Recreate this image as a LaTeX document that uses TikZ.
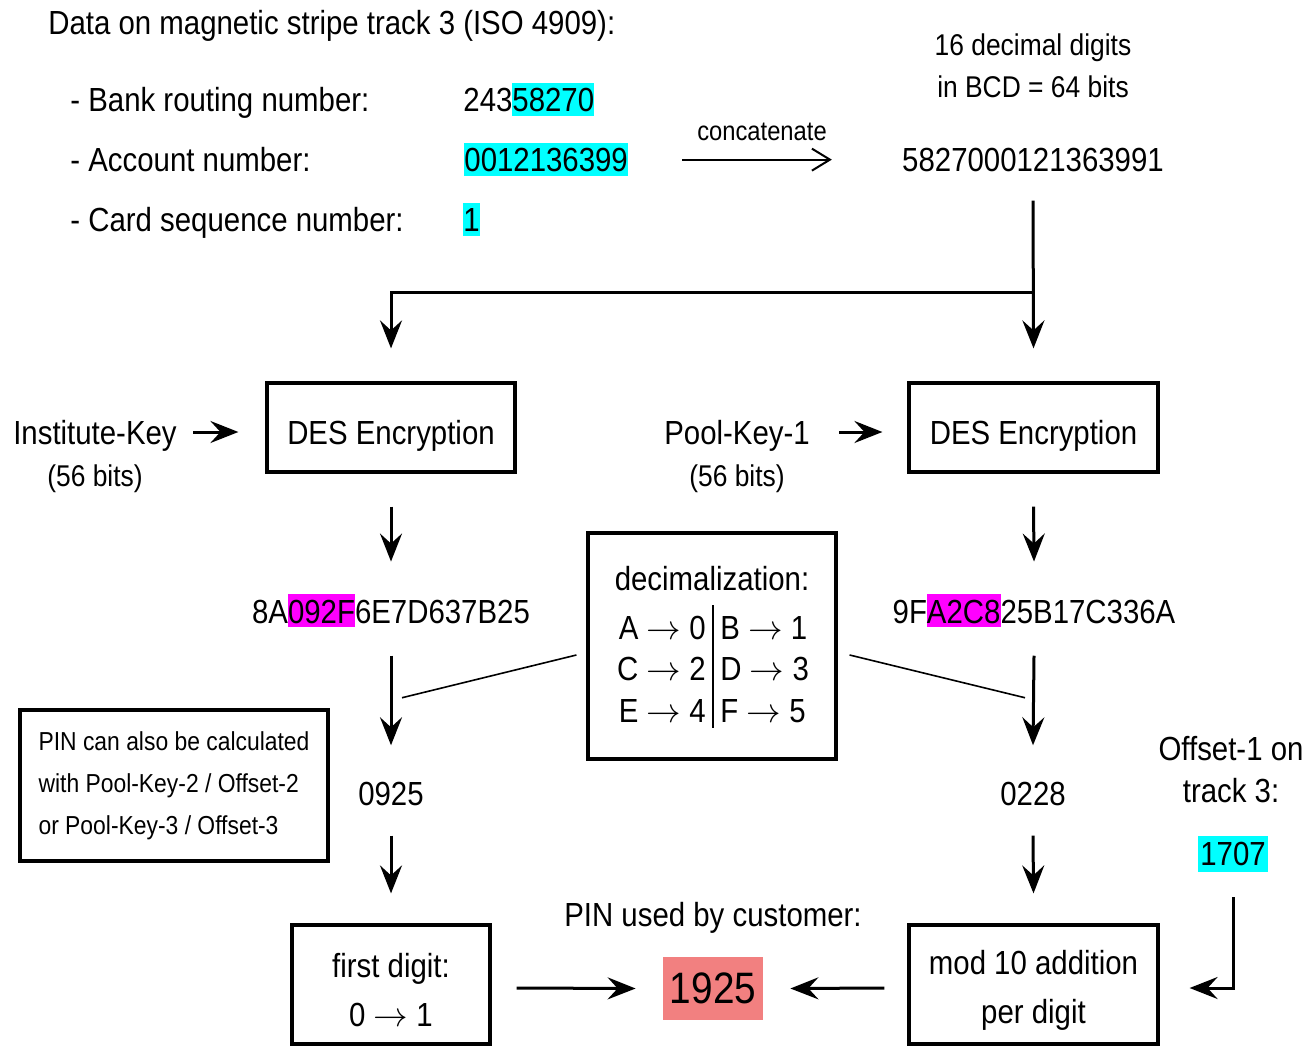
\documentclass[tikz,border=0pt]{standalone}
\usepackage{fontspec}
\setmainfont{Liberation Sans}[FakeStretch=0.88]
\usetikzlibrary{arrows.meta,calc}
\definecolor{hlcyan}{RGB}{0,255,255}
\definecolor{hlmag}{RGB}{255,0,255}
\definecolor{pinred}{RGB}{242,128,128}
% highlighted digits inside a number
\newcommand\hl[2]{{\setlength\fboxsep{0pt}\colorbox{#1}{\rule[-0.13em]{0pt}{1em}#2}}}
% mapping arrow used in the tables
\newcommand\mapto{\ensuremath{\rightarrow}}

\begin{document}
\begin{tikzpicture}[x=0.5pt,y=-0.5pt,
  txt/.style={inner sep=0pt, font=\fontsize{16.7}{20}\selectfont},
  small/.style={inner sep=0pt, font=\fontsize{15}{18}\selectfont},
  box/.style={draw, line width=1.6pt, inner sep=0pt, align=center,
    font=\fontsize{16.7}{24.5}\selectfont},
  arr/.style={line width=1.5pt, -{Stealth[length=14pt,width=11pt,inset=5pt]}},
  thinarr/.style={line width=1pt, -{Straight Barb[length=9pt,width=11pt]}},
  thinline/.style={line width=0.8pt},
]
\useasboundingbox (0,0) rectangle (1309,1047);

% --- track 3 data
\node[txt, anchor=base west] (title) at (48,35) {Data on magnetic stripe track 3 (ISO 4909):};
\node[txt, anchor=base west] (bankl) at (70,112) {- Bank routing number:};
\node[txt, anchor=base west] (acctl) at (70,172) {- Account number:};
\node[txt, anchor=base west] (cardl) at (70,232) {- Card sequence number:};
\node[txt, anchor=base west] (bankv) at (463,112) {243\hl{hlcyan}{58270}};
\node[txt, anchor=base west] (acctv) at (464,172) {\hl{hlcyan}{0012136399}};
\node[txt, anchor=base west] (cardv) at (463,232) {\hl{hlcyan}{1}};

% --- concatenated block
\node[small, anchor=base] (bcd1) at (1033,56) {16 decimal digits};
\node[small, anchor=base] (bcd2) at (1033,98) {in BCD = 64 bits};
\node[txt, anchor=base] (num) at (1033,172) {5827000121363991};
\node[inner sep=0pt, font=\fontsize{13.5}{16}\selectfont, anchor=base] (concat) at (762,141) {concatenate};
\draw[thinarr] ($(acctv.east)+(54,0)$) -- ($(num.west |- acctv.east)+(-70,0)$);

% --- DES stages
\node[box, minimum width=124pt, minimum height=44.5pt, text height=16.5pt, text depth=0pt] (des1) at (391,427.5) {DES Encryption};
\node[box, minimum width=124.5pt, minimum height=44.5pt, text height=16.5pt, text depth=0pt] (des2) at (1033.5,427.5) {DES Encryption};

\node[txt, anchor=base] (ikey) at (95,444) {Institute-Key};
\node[small, anchor=base] (ikeyb) at (95,486) {(56 bits)};
\node[txt, anchor=base] (pkey) at (737,444) {Pool-Key-1};
\node[small, anchor=base] (pkeyb) at (737,486) {(56 bits)};

\coordinate (split) at (1033,293);
\draw[arr] ($(num.south)+(0,28)$) -- ($(des2.north)+(0,-33)$);
\draw[arr] (split) -| ($(des1.north)+(0,-33)$);
\draw[arr] ($(ikey.base east)+(16,-12)$) -- ($(des1.west |- ikey.base)+(-27,-12)$);
\draw[arr] ($(pkey.base east)+(29,-12)$) -- ($(des2.west |- pkey.base)+(-25,-12)$);

% --- cipher text
\node[txt, anchor=base] (hex1) at (391,623) {8A\hl{hlmag}{092F}6E7D637B25};
\node[txt, anchor=base] (hex2) at (1034,623) {9F\hl{hlmag}{A2C8}25B17C336A};
\draw[arr] ($(des1.south)+(0,33)$) -- ($(hex1.north)+(0,-32)$);
\draw[arr] ($(des2.south)+(0,33)$) -- ($(hex2.north)+(0,-32)$);

% --- decimalization table
\node[draw, line width=1.6pt, minimum width=124pt, minimum height=113pt] (deci) at (712,646) {};
\node[txt, anchor=base] (decit) at (712,590) {decimalization:};
\node[txt, anchor=base east] (ra) at (706,639) {A \mapto{} 0};
\node[txt, anchor=base west] (rb) at (720,639) {B \mapto{} 1};
\node[txt, anchor=base east] (rc) at (706,680) {C \mapto{} 2};
\node[txt, anchor=base west] (rd) at (720,680) {D \mapto{} 3};
\node[txt, anchor=base east] (re) at (706,722) {E \mapto{} 4};
\node[txt, anchor=base west] (rf) at (720,722) {F \mapto{} 5};
\draw[thinline] ($(deci.center)+(1,-41)$) -- ($(deci.center)+(1,82)$);

% --- decimal results
\node[txt, anchor=base] (dec1) at (391,805) {0925};
\node[txt, anchor=base] (dec2) at (1033,805) {0228};
\draw[arr] ($(hex1.south)+(0,28)$) -- ($(dec1.north)+(0,-36)$);
\draw[arr] ($(hex2.south)+(0,28)$) -- ($(dec2.north)+(0,-36)$);
\coordinate (tapL) at ($(hex1.south)+(11,70)$);
\coordinate (tapR) at ($(hex2.south)+(-9,70)$);
\draw[thinline] ($(deci.west)+(-10,9)$) -- (tapL);
\draw[thinline] ($(deci.east)+(12,9)$) -- (tapR);

% --- side note
\node[box, align=left, minimum width=154pt, minimum height=75.5pt,
  font=\fontsize{13}{21}\selectfont] (note) at (174,785.5)
  {PIN can also be calculated\\with Pool-Key-2 / Offset-2\\or Pool-Key-3 / Offset-3};

% --- offset
\node[txt, anchor=base] (off1) at (1231,760) {Offset-1 on};
\node[txt, anchor=base] (off2) at (1231,802) {track 3:};
\node[fill=hlcyan, inner sep=0pt, minimum width=35pt, minimum height=18pt,
  font=\fontsize{16.7}{20}\selectfont] (offv) at (1233,854) {1707};

% --- final stage
\node[box, minimum width=99pt, minimum height=59.5pt] (fd) at (391,984.5)
  {\rule{0pt}{17.5pt}first digit:\\0 \mapto{} 1};
\node[box, minimum width=124.5pt, minimum height=59.5pt] (mod) at (1033.5,984.5)
  {\rule{0pt}{17.5pt}mod 10 addition\\per digit};
\node[txt, anchor=base] (pinl) at (713,926) {PIN used by customer:};
\node[fill=pinred, inner sep=0pt, minimum width=50pt, minimum height=31.5pt,
  font=\fontsize{22}{26}\selectfont] (pin) at (713,988.5) {1925};

\draw[arr] ($(dec1.south)+(0,30)$) -- ($(fd.north)+(0,-30)$);
\draw[arr] ($(dec2.south)+(0,30)$) -- ($(mod.north)+(0,-30)$);
\draw[arr] ($(fd.east)+(25,3.5)$) -- ($(pin.west)+(-27,0)$);
\draw[arr] ($(mod.west)+(-23,3.5)$) -- ($(pin.east)+(27,0)$);
\draw[arr] ($(offv.south)+(0,25)$) |- ($(mod.east)+(30,3.5)$);
\end{tikzpicture}
\end{document}
